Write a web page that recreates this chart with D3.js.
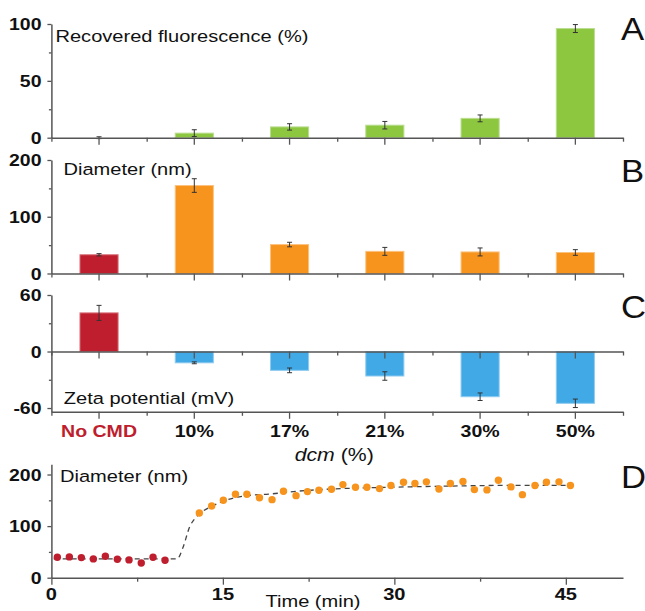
<!DOCTYPE html>
<html><head><meta charset="utf-8">
<script src="https://cdn.jsdelivr.net/npm/d3@7"></script>
<style>body{margin:0;background:#fff;} svg{display:block;}</style>
</head><body>
<svg id="chart" width="645" height="611"></svg>
<script>
// ---------- data ----------
const categories = ["No CMD", "10%", "17%", "21%", "30%", "50%"];
const fluorescence = [0, 4, 9.5, 11, 17, 96];
const fluorescenceErr = [0.8, 3, 2.8, 3.3, 3, 3.5];
const diameter = [33, 155, 51, 39, 38, 37];
const diameterErr = [2, 12, 4, 7, 7, 5];
const zeta = [41, -12, -20, -26, -48, -55];
const zetaErr = [8, 1, 2.5, 4.5, 4, 4.5];

const timeRed = [0.52, 1.57, 2.62, 3.67, 4.72, 5.77, 6.79, 7.86, 8.89, 9.94];
const diamRed = [39.7, 40.3, 39, 36.4, 41.6, 35.8, 34.5, 28.6, 39.7, 33.8];
const timeOrange = [12.94, 14.02, 15.04, 16.1, 17.1, 18.2, 19.3, 20.3, 21.4, 22.4, 23.4, 24.5, 25.5, 26.6, 27.6, 28.7,
  29.7, 30.8, 31.8, 32.8, 33.9, 34.9, 36, 37, 38.1, 39.1, 40.2, 41.2, 42.3, 43.3, 44.4, 45.4];
const diamOrange = [125.4, 139, 150, 161.7, 161.7, 155, 151.3, 167.5, 159, 166.9, 169.4, 171.4, 180.5, 175.3, 175.3, 172.7,
  178.6, 185, 182.5, 185.8, 172, 182.5, 186.4, 170.8, 170.2, 189, 176, 161, 178.6, 185, 185.8, 178.6];
const fitTime = [0.2, 11.0, 11.5, 12.1, 12.6, 13.2, 14, 15, 16.2, 17.1, 19, 21.7, 24.6, 29, 33.4, 40.7, 45.6];
const fitDiam = [36.5, 36.5, 58, 99, 116, 128, 138, 148, 156, 159, 162, 168, 172, 175, 177, 179, 179];

const yTicksA = [0, 50, 100], yMinorA = [25, 75];
const yTicksB = [0, 100, 200], yMinorB = [50, 150];
const yTicksC = [-60, 0, 60], yMinorC = [-30, 30];
const yTicksD = [0, 100, 200], yMinorD = [50, 150];
const xTicksD = [0, 15, 30, 45], xMinorD = [7.5, 22.5, 37.5];

// ---------- styles ----------
const FONT = "'Liberation Sans', Arial, sans-serif";
const SX = 1.18;
const AXIS = "#555";
const GREEN = "#8DC63F", ORANGE = "#F7941D", RED = "#BE1E2D", BLUE = "#41A9E5";
const X0 = 51.4, X1 = 623;

const svg = d3.select("#chart");

function label(g, x, y, str, o = {}) {
  const t = g.append("text")
    .attr("transform", `translate(${x},${y}) scale(${o.sx || SX},1)`)
    .attr("font-family", FONT)
    .attr("font-size", o.size || 16)
    .attr("font-weight", o.weight || "normal")
    .attr("text-anchor", o.anchor || "start")
    .attr("fill", o.fill || "#111");
  if (str !== null) t.text(str);
  return t;
}

function styleAxis(g) {
  g.select(".domain").attr("stroke", AXIS).attr("stroke-width", 1.5);
  g.selectAll(".tick line").attr("stroke", AXIS).attr("stroke-width", 1.3);
  g.selectAll(".tick text").remove();
}

const x = d3.scaleBand(categories, [X0, X1]).paddingInner(0.6).paddingOuter(0.3);
const xIdx = d3.scaleLinear([0, categories.length], [X0, X1]);

function yAxis(y, major, minor) {
  const gm = svg.append("g").attr("transform", `translate(${X0},0)`)
    .call(d3.axisLeft(y).tickValues(major).tickSize(4).tickSizeOuter(0).tickFormat(""));
  styleAxis(gm);
  const gn = svg.append("g").attr("transform", `translate(${X0},0)`)
    .call(d3.axisLeft(y).tickValues(minor).tickSize(2.5).tickSizeOuter(0).tickFormat(""));
  styleAxis(gn);
  gn.select(".domain").remove();
  major.forEach(v => label(svg, 41.5, y(v) + 6, String(v), { size: 16.5, weight: "bold", anchor: "end" }));
}

function catAxis(yPos) {
  const g1 = svg.append("g").attr("transform", `translate(0,${yPos})`)
    .call(d3.axisBottom(x).tickSize(7).tickSizeOuter(0).tickFormat(""));
  styleAxis(g1);
  const g2 = svg.append("g").attr("transform", `translate(0,${yPos})`)
    .call(d3.axisBottom(xIdx).tickValues(d3.range(categories.length + 1)).tickSize(4).tickSizeOuter(0).tickFormat(""));
  styleAxis(g2);
  g2.select(".domain").remove();
}

function bars(y, vals, errs, colorFn, strokeFn) {
  const g = svg.append("g");
  g.selectAll("rect").data(categories).join("rect")
    .attr("x", d => x(d))
    .attr("width", x.bandwidth())
    .attr("y", (d, i) => Math.min(y(vals[i]), y(0)))
    .attr("height", (d, i) => Math.abs(y(vals[i]) - y(0)))
    .attr("fill", (d, i) => colorFn(i))
    .attr("stroke", (d, i) => strokeFn(i))
    .attr("stroke-width", 1);
  const e = svg.append("g").attr("stroke", "#333").attr("stroke-width", 1);
  categories.forEach((c, i) => {
    const cx = x(c) + x.bandwidth() / 2;
    const lo = y(vals[i] - errs[i]), hi = y(vals[i] + errs[i]);
    e.append("line").attr("x1", cx).attr("x2", cx).attr("y1", lo).attr("y2", hi);
    e.append("line").attr("x1", cx - 2.5).attr("x2", cx + 2.5).attr("y1", lo).attr("y2", lo);
    e.append("line").attr("x1", cx - 2.5).attr("x2", cx + 2.5).attr("y1", hi).attr("y2", hi);
  });
}

function panelLetter(ch, yBase) {
  label(svg, 621, yBase, ch, { size: 31, sx: 1.12, fill: "#111" });
}

// ---------- Panel A ----------
const yA = d3.scaleLinear([0, 100], [137.7, 24]);
bars(yA, fluorescence, fluorescenceErr, () => GREEN, () => "#B9DD8F");
yAxis(yA, yTicksA, yMinorA);
catAxis(yA(0));
label(svg, 55.5, 42, "Recovered fluorescence (%)", { size: 17 });
panelLetter("A", 40);

// ---------- Panel B ----------
const yB = d3.scaleLinear([0, 200], [273.5, 160]);
bars(yB, diameter, diameterErr, i => i === 0 ? RED : ORANGE, i => i === 0 ? "#D9707A" : "#FBC27E");
yAxis(yB, yTicksB, yMinorB);
catAxis(yB(0));
label(svg, 63.5, 175, "Diameter (nm)", { size: 17 });
panelLetter("B", 182);

// ---------- Panel C ----------
const yC = d3.scaleLinear([-64, 60], [411.8, 295]);
bars(yC, zeta, zetaErr, i => i === 0 ? RED : BLUE, i => i === 0 ? "#D9707A" : "#8FCBF0");
yAxis(yC, yTicksC, yMinorC);
catAxis(yC(0));
catAxis(yC(-64));
label(svg, 63.8, 403.5, "Zeta potential (mV)", { size: 17 });
panelLetter("C", 318);
categories.forEach((c, i) => {
  label(svg, x(c) + x.bandwidth() / 2, 436.7, c, { size: 17, weight: "bold", anchor: "middle", sx: 1.15, fill: i === 0 ? RED : "#111" });
});
const dl = label(svg, (X0 + X1) / 2 - 3, 461, null, { size: 18, anchor: "middle" });
dl.append("tspan").attr("font-style", "italic").text("dcm");
dl.append("tspan").text(" (%)");

// ---------- Panel D ----------
const xD = d3.scaleLinear([0, 50], [X0, X1]);
const yD = d3.scaleLinear([0, 220], [577.7, 464.2]);
{
  const gm = svg.append("g").attr("transform", `translate(0,${yD(0)})`)
    .call(d3.axisBottom(xD).tickValues(xTicksD).tickSize(7).tickSizeOuter(0).tickFormat(""));
  styleAxis(gm);
  const gn = svg.append("g").attr("transform", `translate(0,${yD(0)})`)
    .call(d3.axisBottom(xD).tickValues(xMinorD).tickSize(4).tickSizeOuter(0).tickFormat(""));
  styleAxis(gn);
  gn.select(".domain").remove();
  xTicksD.forEach(v => label(svg, xD(v), 600, String(v), { size: 17, weight: "bold", anchor: "middle" }));
}
yAxis(yD, yTicksD, yMinorD);

const fitData = fitTime.map((t, i) => [t, fitDiam[i]]);
svg.append("path")
  .attr("d", d3.line().x(d => xD(d[0])).y(d => yD(d[1])).curve(d3.curveMonotoneX)(fitData))
  .attr("fill", "none").attr("stroke", "#444").attr("stroke-width", 1.3).attr("stroke-dasharray", "5,4");

svg.append("g").selectAll("circle").data(timeRed).join("circle")
  .attr("cx", d => xD(d)).attr("cy", (d, i) => yD(diamRed[i])).attr("r", 3.7).attr("fill", RED);
svg.append("g").selectAll("circle").data(timeOrange).join("circle")
  .attr("cx", d => xD(d)).attr("cy", (d, i) => yD(diamOrange[i])).attr("r", 3.7).attr("fill", ORANGE);

label(svg, 60, 481.7, "Diameter (nm)", { size: 17 });
panelLetter("D", 488);
label(svg, 313, 606.5, "Time (min)", { size: 17, anchor: "middle" });
</script>
</body></html>
